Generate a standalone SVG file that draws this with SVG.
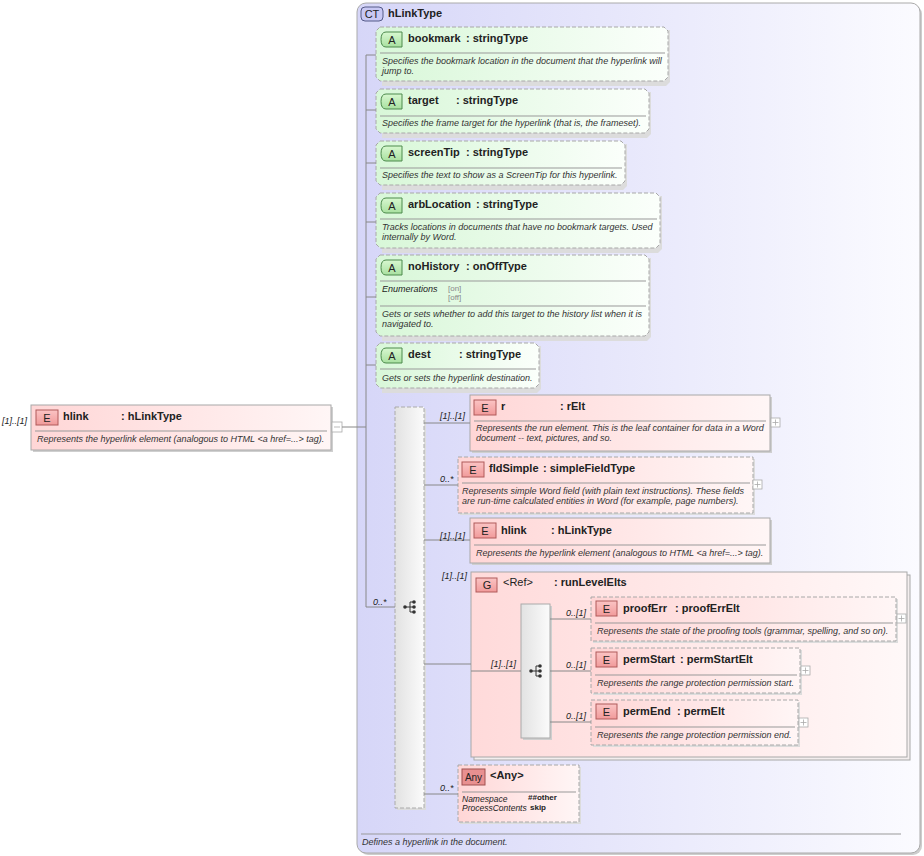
<svg xmlns="http://www.w3.org/2000/svg" width="924" height="856" viewBox="0 0 924 856">
<defs>
<linearGradient id="ctG" x1="0" y1="0" x2="1" y2="0"><stop offset="0" stop-color="#d6d6f8"/><stop offset="1" stop-color="#fbfbff"/></linearGradient>
<linearGradient id="elG" x1="0" y1="0" x2="1" y2="0"><stop offset="0" stop-color="#ffd6d6"/><stop offset="1" stop-color="#fff6f6"/></linearGradient>
<linearGradient id="atG" x1="0" y1="0" x2="1" y2="0"><stop offset="0" stop-color="#d8f7d8"/><stop offset="1" stop-color="#fbfffb"/></linearGradient>
<linearGradient id="grG" x1="0" y1="0" x2="1" y2="0"><stop offset="0" stop-color="#ffdada"/><stop offset="1" stop-color="#fff8f8"/></linearGradient>
<linearGradient id="sqG" x1="0" y1="0" x2="1" y2="0"><stop offset="0" stop-color="#e2e2e2"/><stop offset="1" stop-color="#fbfbfb"/></linearGradient>
<linearGradient id="bE" x1="0" y1="0" x2="0" y2="1"><stop offset="0" stop-color="#fbc4c4"/><stop offset="1" stop-color="#f19a9a"/></linearGradient>
<linearGradient id="bA" x1="0" y1="0" x2="0" y2="1"><stop offset="0" stop-color="#d8f8d0"/><stop offset="1" stop-color="#a8e0a0"/></linearGradient>
<g id="seqIcon">
<circle cx="-5" cy="0" r="1.8" fill="#333"/>
<path d="M-5 0H0M0 -5V5M0 -5H4M0 0H4M0 5H4" stroke="#333" stroke-width="1" fill="none"/>
<circle cx="4" cy="-5" r="1.8" fill="#333"/><circle cx="4" cy="0" r="1.8" fill="#333"/><circle cx="4" cy="5" r="1.8" fill="#333"/>
</g>
</defs>
<style>
text{font-family:"Liberation Sans",Arial,sans-serif;fill:#222}
.nm{font-size:11px;font-weight:bold}
.ds{font-size:9px;font-style:italic;fill:#333}
.ml{font-size:9px;font-style:italic;fill:#222}
.bt{font-size:11px;text-anchor:middle;fill:#222}
.sm{font-size:8px;fill:#888}
.en{font-size:8px;font-weight:bold;fill:#222}
.solid{fill:url(#elG);stroke:#a8a8a8;stroke-width:1}
.dash{fill:url(#elG);stroke:#a8a8a8;stroke-width:1;stroke-dasharray:4 2}
.att{fill:url(#atG);stroke:#a8a8a8;stroke-width:1;stroke-dasharray:4 2}
.shd{fill:#cfcfcf}
.shl{fill:#dcdcdc}
.sep{stroke:#999;stroke-width:1}
.bdE{fill:url(#bE);stroke:#b05a5a;stroke-width:1}
.bdA{fill:url(#bA);stroke:#4c8a4c;stroke-width:1}
.con{stroke:#888;stroke-width:1;fill:none}
.pl{fill:#fff;stroke:#aaa;stroke-width:0.8}
.plx{stroke:#aaa;stroke-width:0.8}
</style>

<!-- complex type container -->
<g id="ct-hLinkType">
<rect x="359" y="5" width="563" height="850" rx="9" fill="#cdcdcd"/>
<rect x="357" y="3" width="563" height="850" rx="9" fill="url(#ctG)" stroke="#aaa" stroke-width="1"/>
<rect x="361" y="7" width="22" height="14" rx="4" fill="#c8c8f4" stroke="#555a88" stroke-width="1"/>
<text class="bt" x="372" y="18">CT</text>
<text class="nm" x="388" y="17">hLinkType</text>
<line class="sep" x1="361" y1="834" x2="901" y2="834"/>
<text class="ds" x="362" y="845">Defines a hyperlink in the document.</text>
</g>

<!-- root element hlink -->
<g id="el-hlink-root">
<text class="ml" x="2" y="424">[1]..[1]</text>
<rect class="shd" x="33" y="407" width="300" height="45"/>
<rect class="solid" x="31" y="405" width="300" height="45"/>
<rect class="bdE" x="36" y="410" width="22" height="15"/>
<text class="bt" x="47" y="422">E</text>
<text class="nm" x="63" y="420">hlink</text>
<text class="nm" x="121" y="420">: hLinkType</text>
<line class="sep" x1="35" y1="431" x2="327" y2="431"/>
<text class="ds" x="37" y="442">Represents the hyperlink element (analogous to HTML &lt;a href=...&gt; tag).</text>
<rect class="pl" x="332" y="422" width="10" height="10"/>
<line class="plx" x1="334" y1="427" x2="340" y2="427"/>
</g>

<!-- attributes -->
<g id="att-bookmark">
<path class="shl" d="M382 30H670V82L666 86H382Z"/>
<path class="att" d="M380 27H664L668 31V77L664 81H380L376 77V31Z"/>
<path class="bdA" d="M386 32H402V47H386Q381 47 381 39.5Q381 32 386 32Z"/>
<text class="bt" x="392" y="44">A</text>
<text class="nm" x="408" y="42">bookmark</text>
<text class="nm" x="466" y="42">: stringType</text>
<line class="sep" x1="380" y1="53" x2="665" y2="53"/>
<text class="ds" x="382" y="64">Specifies the bookmark location in the document that the hyperlink will</text>
<text class="ds" x="382" y="74">jump to.</text>
</g>
<g id="att-target">
<path class="shl" d="M382 92H651V134L647 138H382Z"/>
<path class="att" d="M380 89H645L649 93V129L645 133H380L376 129V93Z"/>
<path class="bdA" d="M386 94H402V109H386Q381 109 381 101.5Q381 94 386 94Z"/>
<text class="bt" x="392" y="106">A</text>
<text class="nm" x="408" y="104">target</text>
<text class="nm" x="456" y="104">: stringType</text>
<line class="sep" x1="380" y1="116" x2="646" y2="116"/>
<text class="ds" x="382" y="126">Specifies the frame target for the hyperlink (that is, the frameset).</text>
</g>
<g id="att-screenTip">
<path class="shl" d="M382 144H627V186L623 190H382Z"/>
<path class="att" d="M380 141H621L625 145V181L621 185H380L376 181V145Z"/>
<path class="bdA" d="M386 146H402V161H386Q381 161 381 153.5Q381 146 386 146Z"/>
<text class="bt" x="392" y="158">A</text>
<text class="nm" x="408" y="156">screenTip</text>
<text class="nm" x="466" y="156">: stringType</text>
<line class="sep" x1="380" y1="168" x2="622" y2="168"/>
<text class="ds" x="382" y="178">Specifies the text to show as a ScreenTip for this hyperlink.</text>
</g>
<g id="att-arbLocation">
<path class="shl" d="M382 196H662V249L658 253H382Z"/>
<path class="att" d="M380 193H656L660 197V244L656 248H380L376 244V197Z"/>
<path class="bdA" d="M386 198H402V213H386Q381 213 381 205.5Q381 198 386 198Z"/>
<text class="bt" x="392" y="210">A</text>
<text class="nm" x="408" y="208">arbLocation</text>
<text class="nm" x="476" y="208">: stringType</text>
<line class="sep" x1="380" y1="219" x2="657" y2="219"/>
<text class="ds" x="382" y="230">Tracks locations in documents that have no bookmark targets. Used</text>
<text class="ds" x="382" y="240">internally by Word.</text>
</g>
<g id="att-noHistory">
<path class="shl" d="M382 258H651V337L647 341H382Z"/>
<path class="att" d="M380 255H645L649 259V332L645 336H380L376 332V259Z"/>
<path class="bdA" d="M386 260H402V275H386Q381 275 381 267.5Q381 260 386 260Z"/>
<text class="bt" x="392" y="272">A</text>
<text class="nm" x="408" y="270">noHistory</text>
<text class="nm" x="466" y="270">: onOffType</text>
<line class="sep" x1="380" y1="281" x2="646" y2="281"/>
<text class="ds" x="382" y="292" style="fill:#222">Enumerations</text>
<text class="sm" x="448" y="291">[on]</text>
<text class="sm" x="448" y="300">[off]</text>
<line class="sep" x1="380" y1="306" x2="646" y2="306"/>
<text class="ds" x="382" y="317">Gets or sets whether to add this target to the history list when it is</text>
<text class="ds" x="382" y="327">navigated to.</text>
</g>
<g id="att-dest">
<path class="shl" d="M382 346H541V389L537 393H382Z"/>
<path class="att" d="M380 343H535L539 347V384L535 388H380L376 384V347Z"/>
<path class="bdA" d="M386 348H402V363H386Q381 363 381 355.5Q381 348 386 348Z"/>
<text class="bt" x="392" y="360">A</text>
<text class="nm" x="408" y="358">dest</text>
<text class="nm" x="459" y="358">: stringType</text>
<line class="sep" x1="380" y1="369" x2="536" y2="369"/>
<text class="ds" x="382" y="381">Gets or sets the hyperlink destination.</text>
</g>

<!-- sequence compositor -->
<g id="seq-main">
<rect class="shl" x="397" y="409" width="29" height="401"/>
<rect x="395" y="407" width="29" height="401" fill="url(#sqG)" stroke="#aaa" stroke-width="1" stroke-dasharray="4 2"/>
<use href="#seqIcon" x="410" y="607"/>
</g>

<g id="el-r">
<rect class="shd" x="472" y="397" width="300" height="56"/>
<rect class="solid" x="470" y="395" width="300" height="56"/>
<rect class="bdE" x="474" y="400" width="22" height="15"/>
<text class="bt" x="485" y="412">E</text>
<text class="nm" x="501" y="410">r</text>
<text class="nm" x="560" y="410">: rElt</text>
<line class="sep" x1="474" y1="421" x2="766" y2="421"/>
<text class="ds" x="476" y="431">Represents the run element. This is the leaf container for data in a Word</text>
<text class="ds" x="476" y="441">document -- text, pictures, and so.</text>
<rect class="pl" x="771" y="418" width="9" height="9"/>
<path class="plx" d="M772.5 422.5H778.5M775.5 419.5V425.5"/>
</g>

<g id="el-fldSimple">
<rect class="shl" x="460" y="459" width="295" height="56"/>
<rect class="dash" x="458" y="457" width="295" height="56"/>
<rect class="bdE" x="462" y="462" width="22" height="15"/>
<text class="bt" x="473" y="474">E</text>
<text class="nm" x="489" y="472">fldSimple</text>
<text class="nm" x="543" y="472">: simpleFieldType</text>
<line class="sep" x1="462" y1="483" x2="750" y2="483"/>
<text class="ds" x="462" y="494">Represents simple Word field (with plain text instructions). These fields</text>
<text class="ds" x="462" y="504">are run-time calculated entities in Word (for example, page numbers).</text>
<rect class="pl" x="753" y="480" width="9" height="9"/>
<path class="plx" d="M754.5 484.5H760.5M757.5 481.5V487.5"/>
</g>

<g id="el-hlink">
<rect class="shd" x="472" y="520" width="300" height="45"/>
<rect class="solid" x="470" y="518" width="300" height="45"/>
<rect class="bdE" x="474" y="523" width="22" height="15"/>
<text class="bt" x="485" y="535">E</text>
<text class="nm" x="501" y="534">hlink</text>
<text class="nm" x="551" y="534">: hLinkType</text>
<line class="sep" x1="474" y1="545" x2="766" y2="545"/>
<text class="ds" x="476" y="556">Represents the hyperlink element (analogous to HTML &lt;a href=...&gt; tag).</text>
</g>

<!-- group ref -->
<g id="grp-runLevelElts">
<rect x="474" y="575" width="436" height="185" fill="#f4eeee" stroke="#a8a8a8" stroke-width="1"/>
<rect x="471" y="572" width="436" height="185" fill="url(#grG)" stroke="#a8a8a8" stroke-width="1"/>
<rect class="bdE" x="476" y="578" width="21" height="14"/>
<text class="bt" x="487" y="589">G</text>
<text class="nm" x="503" y="586" style="font-weight:normal">&lt;Ref&gt;</text>
<text class="nm" x="554" y="586">: runLevelElts</text>
</g>
<g id="seq-inner">
<rect class="shd" x="523" y="606" width="29" height="134"/>
<rect x="521" y="604" width="29" height="134" fill="url(#sqG)" stroke="#aaa" stroke-width="1"/>
<use href="#seqIcon" x="536" y="671"/>
</g>

<g id="el-proofErr">
<rect class="shl" x="593" y="599" width="305" height="44"/>
<rect class="dash" x="591" y="597" width="305" height="44"/>
<rect class="bdE" x="596" y="601" width="21" height="15"/>
<text class="bt" x="606.5" y="613">E</text>
<text class="nm" x="623" y="612">proofErr</text>
<text class="nm" x="675" y="612">: proofErrElt</text>
<line class="sep" x1="595" y1="623" x2="893" y2="623"/>
<text class="ds" x="597" y="634">Represents the state of the proofing tools (grammar, spelling, and so on).</text>
<rect class="pl" x="897" y="614" width="9" height="9"/>
<path class="plx" d="M898.5 618.5H904.5M901.5 615.5V621.5"/>
</g>

<g id="el-permStart">
<rect class="shl" x="593" y="650" width="209" height="45"/>
<rect class="dash" x="591" y="648" width="209" height="45"/>
<rect class="bdE" x="596" y="652" width="21" height="15"/>
<text class="bt" x="606.5" y="664">E</text>
<text class="nm" x="623" y="663">permStart</text>
<text class="nm" x="680" y="663">: permStartElt</text>
<line class="sep" x1="595" y1="675" x2="797" y2="675"/>
<text class="ds" x="597" y="686">Represents the range protection permission start.</text>
<rect class="pl" x="801" y="666" width="9" height="9"/>
<path class="plx" d="M802.5 670.5H808.5M805.5 667.5V673.5"/>
</g>

<g id="el-permEnd">
<rect class="shl" x="593" y="702" width="207" height="45"/>
<rect class="dash" x="591" y="700" width="207" height="45"/>
<rect class="bdE" x="596" y="704" width="21" height="15"/>
<text class="bt" x="606.5" y="716">E</text>
<text class="nm" x="623" y="715">permEnd</text>
<text class="nm" x="677" y="715">: permElt</text>
<line class="sep" x1="595" y1="727" x2="795" y2="727"/>
<text class="ds" x="597" y="738">Represents the range protection permission end.</text>
<rect class="pl" x="799" y="718" width="9" height="9"/>
<path class="plx" d="M800.5 722.5H806.5M803.5 719.5V725.5"/>
</g>

<g id="any">
<rect class="shl" x="460" y="767" width="121" height="57"/>
<rect class="dash" x="458" y="765" width="121" height="57"/>
<rect x="462" y="769" width="23" height="16" fill="#e89090" stroke="#a05050" stroke-width="1"/>
<text class="bt" x="473.5" y="781" style="font-size:10px">Any</text>
<text class="nm" x="490" y="779">&lt;Any&gt;</text>
<line class="sep" x1="462" y1="792" x2="576" y2="792"/>
<text class="ds" x="462" y="802" style="fill:#222;font-size:8.5px">Namespace</text>
<text class="en" x="528" y="800">##other</text>
<text class="ds" x="462" y="811" style="fill:#222;font-size:8.5px">ProcessContents</text>
<text class="en" x="530" y="810">skip</text>
</g>

<!-- connectors -->
<g id="connectors">
<path class="con" d="M342 427H366"/>
<path class="con" d="M366 55V607H395"/>
<path class="con" d="M366 55H376M366 110H376M366 163H376M366 222H376M366 297H376M366 365H376"/>
<path class="con" d="M424 423H470M424 485H458M424 540H470M424 664H471M471 671H521M424 794H458"/>
<path class="con" d="M550 619H591M550 671H591M550 722H591"/>
<text class="ml" x="373" y="605">0..*</text>
<text class="ml" x="440" y="419">[1]..[1]</text>
<text class="ml" x="440" y="482">0..*</text>
<text class="ml" x="440" y="539">[1]..[1]</text>
<text class="ml" x="442" y="579">[1]..[1]</text>
<text class="ml" x="491" y="667">[1]..[1]</text>
<text class="ml" x="566" y="616">0..[1]</text>
<text class="ml" x="566" y="668">0..[1]</text>
<text class="ml" x="566" y="719">0..[1]</text>
<text class="ml" x="440" y="791">0..*</text>
</g>
</svg>
